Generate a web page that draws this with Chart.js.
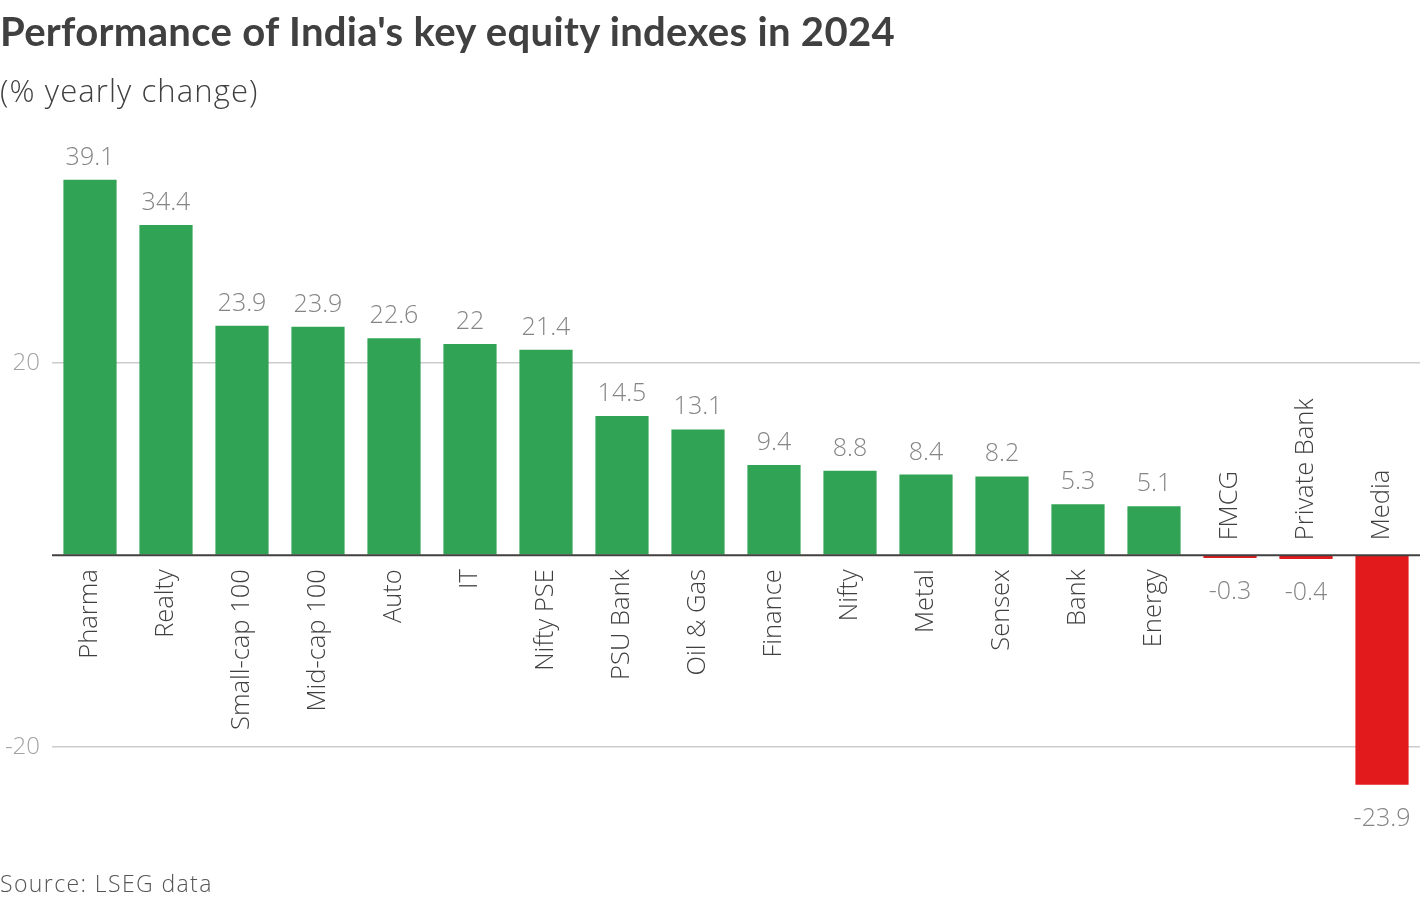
<!DOCTYPE html>
<html>
<head>
<meta charset="utf-8">
<script src="https://cdn.jsdelivr.net/npm/chart.js@4.4.1/dist/chart.umd.min.js"></script>
<style>
  body { margin: 0; background: #fff; width: 1420px; height: 900px; overflow: hidden; position: relative; }
  #title { position: absolute; left: 0; top: 6px; font: 700 36px "Lato", sans-serif; color: #404040; white-space: nowrap; letter-spacing: 0.3px; }
  #subtitle { position: absolute; left: 0; top: 69px; font: 300 31px "Open Sans", sans-serif; color: #404040; white-space: nowrap; letter-spacing: 1.1px; }
  #source { position: absolute; left: 0; top: 867px; font: 300 23px "Open Sans", sans-serif; color: #555; white-space: nowrap; letter-spacing: 1.4px; }
  #wrap { position: absolute; left: 0; top: 0; width: 1420px; height: 900px; }
</style>
</head>
<body>
<div id="wrap"><canvas id="barChart"></canvas></div>
<div id="title">Performance of India's key equity indexes in 2024</div>
<div id="subtitle">(% yearly change)</div>
<div id="source">Source: LSEG data</div>
<script>
"use strict";

const indexNames = ["Pharma", "Realty", "Small-cap 100", "Mid-cap 100", "Auto", "IT", "Nifty PSE",
    "PSU Bank", "Oil & Gas", "Finance", "Nifty", "Metal", "Sensex", "Bank", "Energy",
    "FMCG", "Private Bank", "Media"];
const valueLabels = ["39.1", "34.4", "23.9", "23.9", "22.6", "22", "21.4", "14.5", "13.1", "9.4", "8.8",
    "8.4", "8.2", "5.3", "5.1", "-0.3", "-0.4", "-23.9"];
// Bar heights in the picture (the two 23.9 bars differ by a hair)
const barHeights = [39.1, 34.4, 23.9, 23.8, 22.6, 22, 21.4, 14.5, 13.1, 9.4, 8.8, 8.4, 8.2, 5.3, 5.1,
    -0.3, -0.4, -23.9];
const yTicks = [-20, 0, 20];

const green = "#31a354";
const red = "#e31a1c";
const barColors = barHeights.map(v => v < 0 ? red : green);

// Labels for values and categories, plus the zero line on top of the bars
const labelPlugin = {
    id: "labelPlugin",
    afterDatasetsDraw(chart) {
        const ctx = chart.ctx;
        const y = chart.scales.y;
        const y0 = y.getPixelForValue(0);

        ctx.save();
        ctx.strokeStyle = "#404040";
        ctx.lineWidth = 2;
        ctx.beginPath();
        ctx.moveTo(chart.chartArea.left, y0);
        ctx.lineTo(chart.chartArea.right, y0);
        ctx.stroke();

        chart.getDatasetMeta(0).data.forEach((bar, i) => {
            const v = barHeights[i];
            const cx = bar.x;

            ctx.fillStyle = "#858585";
            ctx.font = "300 25px 'Open Sans', sans-serif";
            ctx.textAlign = "center";
            ctx.textBaseline = "alphabetic";
            if (v >= 0) {
                ctx.fillText(valueLabels[i], cx, bar.y - 15);
            } else {
                ctx.fillText(valueLabels[i], cx, bar.y + 41);
            }

            ctx.save();
            ctx.fillStyle = "#404040";
            ctx.font = "300 25.5px 'Open Sans', sans-serif";
            ctx.textBaseline = "middle";
            if (v >= 0) {
                ctx.translate(cx, y0 + 14);
                ctx.rotate(-Math.PI / 2);
                ctx.textAlign = "right";
            } else {
                ctx.translate(cx, y0 - 15);
                ctx.rotate(-Math.PI / 2);
                ctx.textAlign = "left";
            }
            ctx.fillText(indexNames[i], 0, 0);
            ctx.restore();
        });
        ctx.restore();
    }
};

// Stretch the title to the reference width
const titleEl = document.getElementById("title");
titleEl.style.fontSize = (36 * 898 / titleEl.getBoundingClientRect().width).toFixed(1) + "px";

new Chart("barChart", {
    type: "bar",
    data: {
        labels: indexNames,
        datasets: [{
            data: barHeights,
            backgroundColor: barColors,
            barPercentage: 0.7,
            categoryPercentage: 1.0
        }]
    },
    options: {
        responsive: true,
        maintainAspectRatio: false,
        animation: false,
        layout: {
            padding: { top: 152, bottom: 76, left: 1, right: 0 }
        },
        plugins: {
            legend: { display: false },
            title: { display: false },
            tooltip: { enabled: false }
        },
        scales: {
            x: {
                display: false
            },
            y: {
                min: -28,
                max: 42,
                afterBuildTicks: scale => {
                    scale.ticks = yTicks.map(v => ({ value: v }));
                },
                afterFit: scale => {
                    scale.width = 51;
                },
                border: { display: false },
                grid: {
                    drawTicks: false,
                    color: ctx => ctx.tick && ctx.tick.value === 0 ? "rgba(0,0,0,0)" : "#cccccc",
                    lineWidth: 1.5
                },
                ticks: {
                    padding: 12,
                    color: "#a3a3a3",
                    font: { family: "'Open Sans', sans-serif", size: 24, weight: 300 },
                    callback: v => v === 0 ? "" : String(v)
                }
            }
        }
    },
    plugins: [labelPlugin]
});
</script>
</body>
</html>
